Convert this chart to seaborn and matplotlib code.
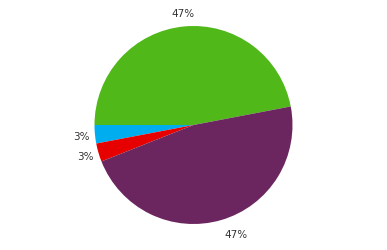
import matplotlib
matplotlib.use("Agg")
import matplotlib.pyplot as plt
import seaborn as sns
import numpy as np

categories = ["A", "B", "C", "D"]
values = [47, 3, 3, 47]
colors = ["#50b818", "#00aeef", "#e60000", "#6b2660"]

sns.set_theme(style="white")
plt.rcParams['font.family'] = ['DejaVu Sans']

fig = plt.figure(figsize=(3.87, 2.51), dpi=100)
ax = fig.add_axes([0, 0, 1, 1])
ax.set_aspect('equal')
ax.axis('off')

wedges, texts, autotexts = ax.pie(
    values, colors=colors, startangle=10.8, counterclock=True,
    autopct='%d%%', pctdistance=1.14, radius=1.0,
    wedgeprops=dict(linewidth=0), textprops=dict(fontsize=7.5, color='#333333'))
for w, t in zip(wedges, autotexts):
    mid = np.deg2rad((w.theta1 + w.theta2) / 2)
    if np.cos(mid) > 0:
        t.set_ha('left')
        t.set_position((1.12 * np.cos(mid), 1.15 * np.sin(mid)))
ax.set_xlim(-193.5 / 99, (387 - 193.5) / 99)
ax.set_ylim(-(251 - 126) / 99, 126 / 99)

fig.savefig("out.png", dpi=100)
